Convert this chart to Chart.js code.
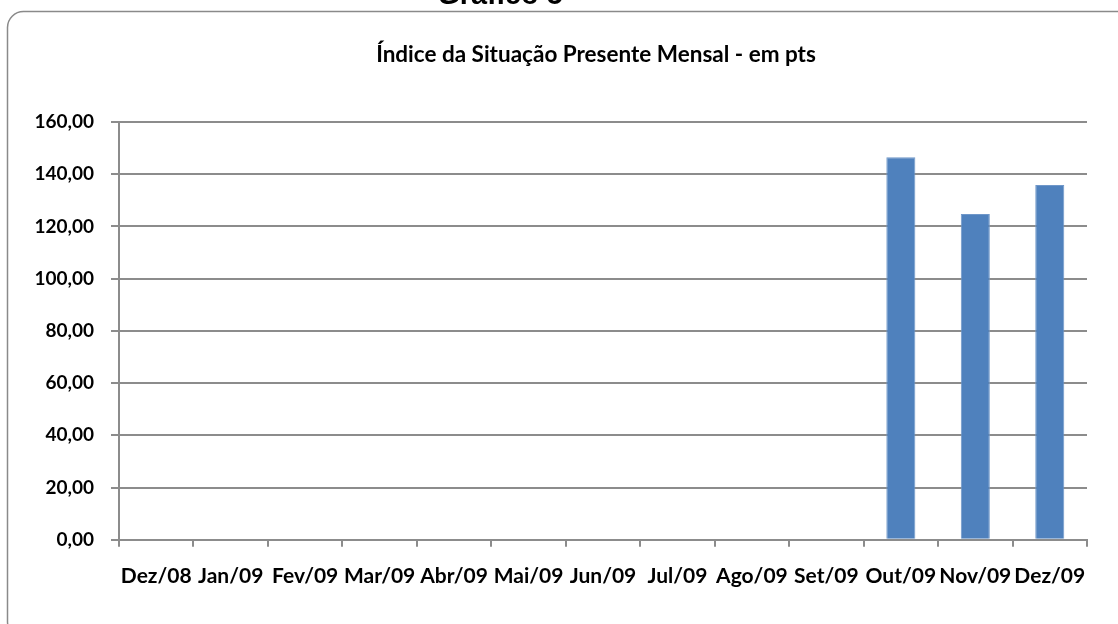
<!DOCTYPE html>
<html>
<head>
<meta charset="utf-8">
<script src="https://cdn.jsdelivr.net/npm/chart.js@4"></script>
<style>
  html, body { margin: 0; padding: 0; background: #fff; }
  #wrap { width: 1118px; height: 624px; position: relative; }
</style>
</head>
<body>
<div id="wrap"><canvas id="chart"></canvas></div>
<script>
const months = ['Dez/08', 'Jan/09', 'Fev/09', 'Mar/09', 'Abr/09', 'Mai/09', 'Jun/09',
    'Jul/09', 'Ago/09', 'Set/09', 'Out/09', 'Nov/09', 'Dez/09'];
const indexValues = [null, null, null, null, null, null, null, null, null, null, 146.5, 124.8, 135.9];
const yTicks = [0, 20, 40, 60, 80, 100, 120, 140, 160];

const chartTitle = 'Índice da Situação Presente Mensal - em pts';
const figureTitle = 'Gráfico 5';

const FONT = 'Lato, "DejaVu Sans", sans-serif';
const GRID = '#8c8c8c';

// frame + texts drawn around the plot
const framePlugin = {
    id: 'frame',
    beforeDraw(chart) {
        const ctx = chart.ctx;
        ctx.save();
        ctx.strokeStyle = '#8a8a8a';
        ctx.lineWidth = 1.5;
        ctx.beginPath();
        ctx.roundRect(7.5, 11.5, 1126, 626, 16);
        ctx.stroke();

        ctx.fillStyle = '#000';
        ctx.textAlign = 'center';
        ctx.textBaseline = 'alphabetic';
        ctx.font = 'bold 29px "Liberation Sans", Arial, sans-serif';
        ctx.fillText(figureTitle, 500, 4);

        ctx.textBaseline = 'middle';
        ctx.font = 'bold 22.5px ' + FONT;
        ctx.fillText(chartTitle, 596, 55);
        ctx.restore();
    }
};

const chart = new Chart(document.querySelector('#chart'), {
    type: 'bar',
    data: {
        labels: months,
        datasets: [
            {
                label: chartTitle,
                data: indexValues,
                backgroundColor: '#4f81bd',
                borderColor: '#6f97c9',
                borderWidth: 1,
                barPercentage: 0.39,
                categoryPercentage: 1
            }
        ]
    },
    options: {
        responsive: true,
        maintainAspectRatio: false,
        animation: false,
        layout: {
            padding: { top: 122, right: 31, bottom: 18, left: 10 }
        },
        plugins: {
            legend: { display: false },
            title: { display: false },
            tooltip: { enabled: false }
        },
        scales: {
            x: {
                grid: {
                    display: true,
                    drawOnChartArea: false,
                    offset: true,
                    tickLength: 7,
                    color: GRID,
                    lineWidth: 2
                },
                border: { color: GRID, width: 2 },
                ticks: {
                    color: '#000',
                    padding: 17,
                    maxRotation: 0,
                    autoSkip: false,
                    font: { family: FONT, weight: 'bold', size: 21 }
                }
            },
            y: {
                min: 0,
                max: 160,
                afterBuildTicks: (axis) => {
                    axis.ticks = yTicks.map(v => ({ value: v }));
                },
                afterFit: (axis) => {
                    axis.width = 109;
                },
                grid: {
                    color: GRID,
                    lineWidth: 2,
                    tickLength: 8
                },
                border: { color: GRID, width: 2 },
                ticks: {
                    color: '#000',
                    padding: 17,
                    font: { family: FONT, weight: 'bold', size: 19 },
                    callback: (value) => value.toFixed(2).replace('.', ',')
                }
            }
        }
    },
    plugins: [framePlugin]
});
</script>
</body>
</html>
